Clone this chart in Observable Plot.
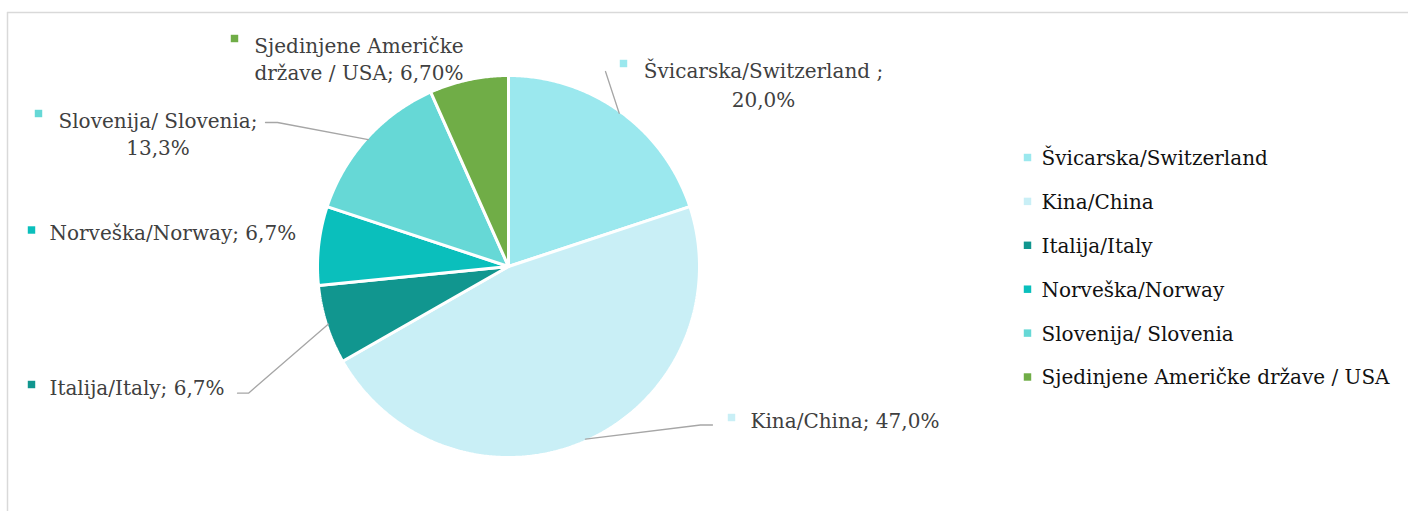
<!DOCTYPE html>
<html>
<head>
<meta charset="utf-8">
<script src="https://cdn.jsdelivr.net/npm/d3@7"></script>
<script src="https://cdn.jsdelivr.net/npm/@observablehq/plot@0.6"></script>
<style>
  html, body { margin: 0; padding: 0; background: #ffffff; }
  #chart svg { display: block; }
</style>
</head>
<body>
<div id="chart"></div>
<script>
// ---------------- data ----------------
const countries = [
  "Švicarska/Switzerland",
  "Kina/China",
  "Italija/Italy",
  "Norveška/Norway",
  "Slovenija/ Slovenia",
  "Sjedinjene Američke države / USA"
];
const shares = [20.0, 47.0, 6.7, 6.7, 13.3, 6.7];
const dataLabels = [
  "Švicarska/Switzerland ;\n20,0%",
  "Kina/China; 47,0%",
  "Italija/Italy; 6,7%",
  "Norveška/Norway; 6,7%",
  "Slovenija/ Slovenia;\n13,3%",
  "Sjedinjene Američke\ndržave / USA; 6,70%"
];
const colors = ["#9be8ee", "#c9eff6", "#11968f", "#0abfbc", "#66d8d6", "#70ad47"];

// ---------------- layout ----------------
const W = 1408, H = 511;
const FONT = "DejaVu Serif";
const pie = {cx: 508, cy: 266, r: 191};
// label placement (pixel layout of Excel-style data labels)
const labelLayout = [
  {mx: 623, my: 63,  tx: 763,   ty: 56.8, anchor: "middle", lineAnchor: "top",    lh: 1.45, leader: [[605, 71]]},
  {mx: 731, my: 417, tx: 750,   ty: 418.6, anchor: "start", lineAnchor: "middle", lh: 1.33, leader: [[700, 424.5], [712, 424.5]]},
  {mx: 31,  my: 384, tx: 49,    ty: 386.3, anchor: "start", lineAnchor: "middle", lh: 1.33, leader: [[248, 392.7], [237, 392.7]]},
  {mx: 31,  my: 229.5, tx: 49,  ty: 231,  anchor: "start", lineAnchor: "middle", lh: 1.33, leader: null},
  {mx: 38,  my: 113, tx: 157.5, ty: 108.8, anchor: "middle", lineAnchor: "top",   lh: 1.33, leader: [[277, 122], [265, 122]]},
  {mx: 234, my: 38,  tx: 358.5, ty: 34.1, anchor: "middle", lineAnchor: "top",    lh: 1.33, leader: null}
];
const legend = {mx: 1027, tx: 1041, y0: 157, step: 43.9};

// ---------------- geometry from data ----------------
const total = d3.sum(shares);
let acc = 0;
const slices = shares.map((v, i) => {
  const a0 = acc / total * 2 * Math.PI;
  acc += v;
  const a1 = acc / total * 2 * Math.PI;
  return {name: countries[i], a0, a1, mid: (a0 + a1) / 2};
});
const px = (a, r) => pie.cx + r * Math.sin(a);
const py = (a, r) => pie.cy - r * Math.cos(a);

const slicePts = [];
slices.forEach(s => {
  slicePts.push({name: s.name, x: pie.cx, y: pie.cy});
  const n = Math.max(2, Math.ceil((s.a1 - s.a0) / (Math.PI / 360)));
  for (let k = 0; k <= n; k++) {
    const a = s.a0 + (s.a1 - s.a0) * k / n;
    slicePts.push({name: s.name, x: px(a, pie.r), y: py(a, pie.r)});
  }
  slicePts.push({name: s.name, x: pie.cx, y: pie.cy});
});

const leaderPts = [];
slices.forEach((s, i) => {
  const L = labelLayout[i];
  if (!L.leader) return;
  leaderPts.push({name: s.name, x: px(s.mid, pie.r - 2), y: py(s.mid, pie.r - 2)});
  L.leader.forEach(([x, y]) => leaderPts.push({name: s.name, x, y}));
});

const labelRows = countries.map((c, i) => ({name: c, text: dataLabels[i], ...labelLayout[i]}));
const legendRows = countries.map((c, i) => ({name: c, y: legend.y0 + i * legend.step}));

// ---------------- plot ----------------
const textMarks = labelRows.map(d =>
  Plot.text([d], {
    x: "tx", y: "ty", text: "text",
    textAnchor: d.anchor, lineAnchor: d.lineAnchor, lineHeight: d.lh,
    fontFamily: FONT, fontSize: 20, fill: "#404040"
  })
);

const chart = Plot.plot({
  width: W,
  height: H,
  margin: 0,
  x: {type: "identity", axis: null},
  y: {type: "identity", axis: null},
  color: {domain: countries, range: colors},
  style: {fontFamily: FONT, background: "#ffffff"},
  marks: [
    Plot.ruleY([12], {x1: 7, x2: W, stroke: "#d9d9d9", strokeWidth: 1.5}),
    Plot.ruleX([7], {y1: 12, y2: H, stroke: "#d9d9d9", strokeWidth: 1.5}),
    Plot.line(slicePts, {x: "x", y: "y", z: "name", fill: "name", stroke: "#ffffff", strokeWidth: 3, strokeLinejoin: "miter", curve: "linear"}),
    Plot.line(leaderPts, {x: "x", y: "y", z: "name", stroke: "#a6a6a6", strokeWidth: 1.3, curve: "linear"}),
    Plot.dot(labelRows, {x: "mx", y: "my", fill: "name", symbol: "square", r: 4.2}),
    ...textMarks,
    Plot.dot(legendRows, {x: legend.mx, y: "y", fill: "name", symbol: "square", r: 4.2}),
    Plot.text(legendRows, {x: legend.tx, y: d => d.y + 1, text: "name", textAnchor: "start", fontFamily: FONT, fontSize: 20, fill: "#111111"})
  ]
});
document.getElementById("chart").appendChild(chart);
</script>
</body>
</html>
